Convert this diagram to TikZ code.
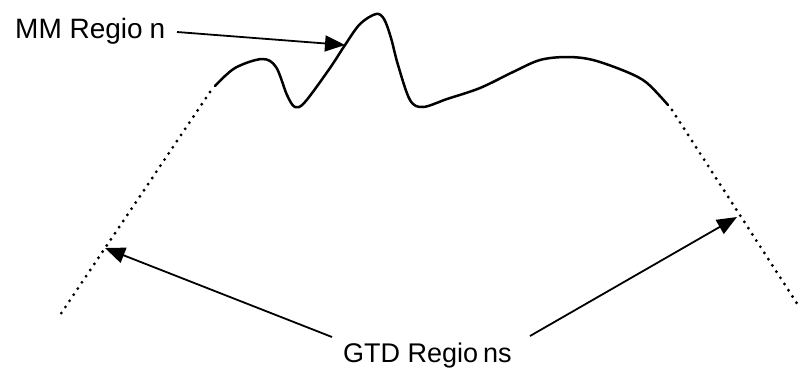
\documentclass[tikz,border=0pt]{standalone}
\usepackage{fontspec}
\setmainfont{Liberation Sans}
\usetikzlibrary{arrows.meta}
\begin{document}
\begin{tikzpicture}[x=1pt,y=-1pt,
  curve/.style={line width=2.5pt, line join=round, line cap=round},
  dotline/.style={line width=3.2pt, line cap=round, dash pattern=on 0pt off 7.4pt},
  pointer/.style={line width=1.8pt, -{Triangle[length=20pt,width=16pt]}},
  label/.style={inner sep=0pt, anchor=base west}]
\useasboundingbox (0,0) rectangle (799,368);
% solid curve (MM region)
\draw[curve] plot[smooth, tension=0.55] coordinates {
  (215,86) (235,68) (262,59) (276,67) (287,95) (295,107) (305,102)
  (330,68) (345,45) (360,24) (376,14) (384,19) (391,38) (398,65)
  (410,100) (423,107) (447,99) (480,88) (513,72) (540,60) (567,57)
  (593,60) (627,72) (647,83) (668,105)};
% dotted GTD regions
\coordinate (ltop) at (210,92);
\coordinate (lbot) at (58,318);
\coordinate (rtop) at (672,110);
\coordinate (rbot) at (798,305);
\draw[dotline] (ltop) -- (lbot);
\draw[dotline] (rtop) -- (rbot);
% labels
\node[label, font=\fontsize{28}{32}\selectfont] (mm) at (15,38) {MM Regio\kern7pt n};
\node[label, font=\fontsize{27}{30}\selectfont] (gtd) at (343,362) {GTD Regio\kern5pt ns};
% arrows
\coordinate (mmtail) at (177,32);
\coordinate (mmtip) at (345,45);
\coordinate (gl) at (332,337);
\coordinate (gr) at (530,336);
\coordinate (ltip) at (105,248);
\coordinate (rtip) at (737,217);
\draw[pointer] (mmtail) -- (mmtip);
\draw[pointer] (gl) -- (ltip);
\draw[pointer] (gr) -- (rtip);
\end{tikzpicture}
\end{document}
